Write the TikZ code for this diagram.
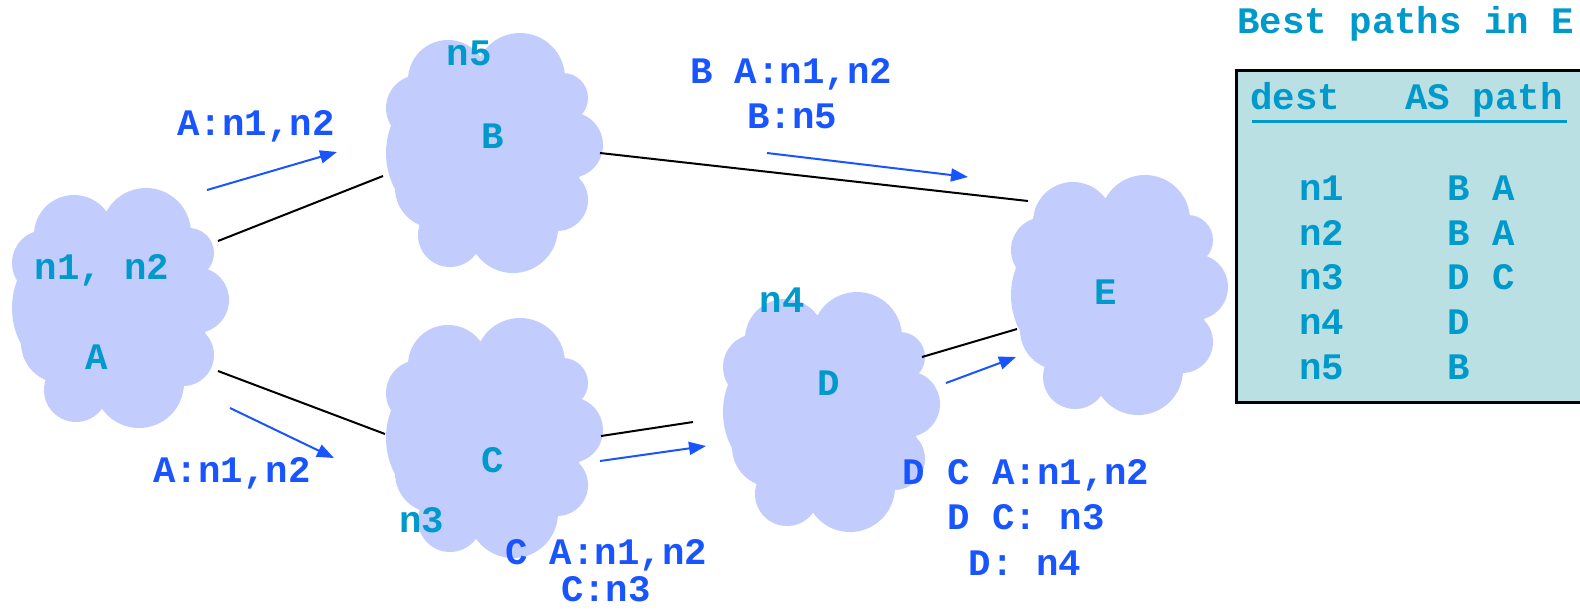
\documentclass[tikz,border=0pt]{standalone}
\usepackage{fontspec}
\setmainfont{Liberation Mono}
\usetikzlibrary{arrows.meta}
\definecolor{cloudfill}{RGB}{194,205,254}
\definecolor{cloudtext}{RGB}{0,153,204}
\definecolor{msgblue}{RGB}{25,85,255}
\definecolor{tablefill}{RGB}{187,224,227}
\tikzset{
  cloudshape/.pic={
    \fill[cloudfill]
      (-45,-73) circle[radius=20pt]
      (27,-75) circle[radius=22.5pt]
      (70,-55) circle[radius=12.5pt]
      (77,-8) circle[radius=16.5pt]
      (64,47) circle[radius=15.5pt]
      (20,75) circle[radius=22.5pt]
      (-43,82) circle[radius=16pt]
      (-74,-45) circle[radius=16.5pt]
      (-30,0) circle[radius=38.5pt]
      (-58,35) circle[radius=20pt]
      (10,0) circle[radius=40pt];
  },
  txt/.style={font=\fontsize{18.7}{22}\selectfont\bfseries, inner sep=0pt},
  cloudlbl/.style={txt, text=cloudtext, anchor=base},
  msglbl/.style={txt, text=msgblue, anchor=base},
  tbllbl/.style={txt, text=cloudtext, anchor=base west},
  link/.style={black, line width=1pt},
  msg/.style={msgblue, line width=1pt, -{Triangle[length=8.5pt,width=6.5pt]}},
}
\begin{document}
\begin{tikzpicture}[x=0.5pt,y=-0.5pt]
\clip (0,0) rectangle (1580,612);
\fill[white] (0,0) rectangle (1580,612);

% clouds
\pic at (119,308) {cloudshape};
\pic at (493,153) {cloudshape};
\pic at (493,438) {cloudshape};
\pic at (830,412) {cloudshape};
\pic at (1118,295) {cloudshape};

% cloud labels
\node[cloudlbl] (lA1) at (102,279) {n1, n2};
\node[cloudlbl] (lA) at (97,369) {A};
\node[cloudlbl] (lB1) at (469,65) {n5};
\node[cloudlbl] (lB) at (493,148) {B};
\node[cloudlbl] (lC) at (493,472) {C};
\node[cloudlbl] (lC1) at (422,532) {n3};
\node[cloudlbl] (lD1) at (782,312) {n4};
\node[cloudlbl] (lD) at (829,395) {D};
\node[cloudlbl] (lE) at (1106,304) {E};

% link end points
\coordinate (ab1) at (218,241); \coordinate (ab2) at (383,176);
\coordinate (be1) at (600,153); \coordinate (be2) at (1028,201);
\coordinate (ac1) at (218,371); \coordinate (ac2) at (385,434);
\coordinate (cd1) at (601,436); \coordinate (cd2) at (693,422);
\coordinate (de1) at (922,357); \coordinate (de2) at (1017,329);

\draw[link] (ab1) -- (ab2);
\draw[link] (be1) -- (be2);
\draw[link] (ac1) -- (ac2);
\draw[link] (cd1) -- (cd2);
\draw[link] (de1) -- (de2);

% message arrows
\coordinate (m1a) at (207,190); \coordinate (m1b) at (337,152);
\coordinate (m2a) at (230,408); \coordinate (m2b) at (334,458);
\coordinate (m3a) at (767,153); \coordinate (m3b) at (968,177);
\coordinate (m4a) at (600,461); \coordinate (m4b) at (706,446);
\coordinate (m5a) at (946,383); \coordinate (m5b) at (1016,357);

\draw[msg] (m1a) -- (m1b);
\draw[msg] (m2a) -- (m2b);
\draw[msg] (m3a) -- (m3b);
\draw[msg] (m4a) -- (m4b);
\draw[msg] (m5a) -- (m5b);

% message labels
\node[msglbl] (t1) at (256,135) {A:n1,n2};
\node[msglbl] (t2) at (232,482) {A:n1,n2};
\node[msglbl] (t3a) at (791,83) {B A:n1,n2};
\node[msglbl] (t3b) at (792,128) {B:n5};
\node[msglbl] (t4a) at (606,564) {C A:n1,n2};
\node[msglbl] (t4b) at (606,601) {C:n3};
\node[msglbl] (t5a) at (1026,484) {D C A:n1,n2};
\node[msglbl] (t5b) at (1026,529) {D C: n3};
\node[msglbl] (t5c) at (1025,575) {D: n4};

% table
\node[tbllbl] (title) at (1237,33) {Best paths in E};
\draw[black, line width=1.5pt, fill=tablefill] (1236,70) rectangle (1600,402);
\node[tbllbl] (hd) at (1250,109) {dest};
\node[tbllbl] (hp) at (1405,109) {AS path};
\draw[cloudtext, line width=1.5pt] (1252,121) -- (1567,121);
\node[tbllbl] (r1a) at (1299,200) {n1}; \node[tbllbl] (r1b) at (1447,200) {B A};
\node[tbllbl] (r2a) at (1299,245) {n2}; \node[tbllbl] (r2b) at (1447,245) {B A};
\node[tbllbl] (r3a) at (1299,289) {n3}; \node[tbllbl] (r3b) at (1447,289) {D C};
\node[tbllbl] (r4a) at (1299,334) {n4}; \node[tbllbl] (r4b) at (1447,334) {D};
\node[tbllbl] (r5a) at (1299,379) {n5}; \node[tbllbl] (r5b) at (1447,379) {B};
\end{tikzpicture}
\end{document}
